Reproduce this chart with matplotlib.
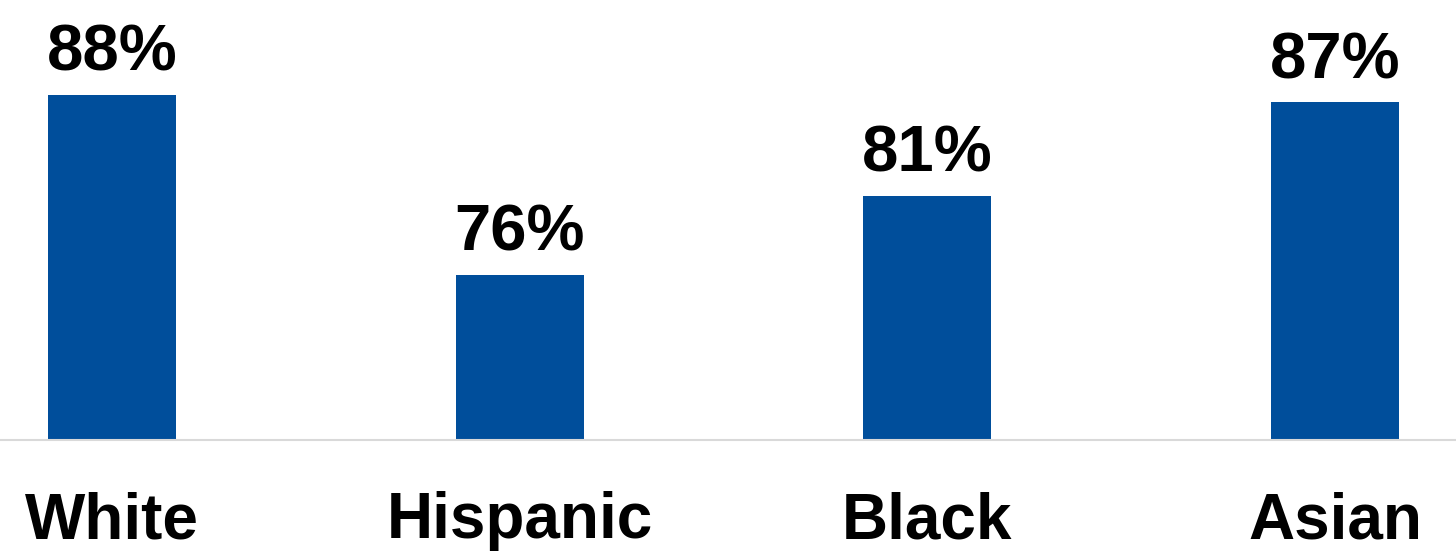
import matplotlib.pyplot as plt

categories = ["White", "Hispanic", "Black", "Asian"]
values = [88, 76, 81.3, 87.5]
labels = ["88%", "76%", "81%", "87%"]

plt.rcParams["font.family"] = ["Liberation Sans", "DejaVu Sans"]

fig = plt.figure(figsize=(14.56, 5.53), dpi=100)
ax = fig.add_axes([0, 113 / 553, 1, 440 / 553])

x = list(range(len(categories)))
ax.bar(x, values, width=0.314, color="#004E9B", bottom=0)
ax.set_ylim(65, 65 + 440 / 15)
ax.set_xlim(-0.275, 3.297)

for xi, v, lab in zip(x, values, labels):
    ax.annotate(lab, (xi, v), xytext=(0, 8), textcoords="offset points",
                ha="center", va="bottom", fontsize=47, fontweight="bold")

for xi, cat in zip(x, categories):
    ax.text(xi, -0.185, cat, transform=ax.get_xaxis_transform(), ha="center",
            va="center", fontsize=46, fontweight="bold")

for s in ["top", "right", "left"]:
    ax.spines[s].set_visible(False)
ax.spines["bottom"].set_color("#d9d9d9")
ax.spines["bottom"].set_linewidth(1.5)
ax.set_xticks([])
ax.set_yticks([])

fig.savefig("out.png", dpi=100)
